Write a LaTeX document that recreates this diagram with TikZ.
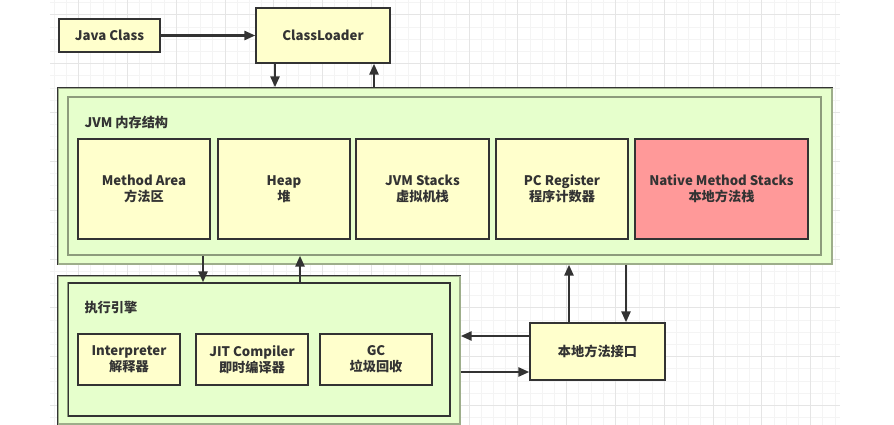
\documentclass[tikz,border=0pt]{standalone}
\usepackage{fontspec}
\setmainfont{Noto Sans CJK SC}
\usetikzlibrary{arrows.meta}
\definecolor{boxfill}{HTML}{FFFFCC}
\definecolor{areafill}{HTML}{E6FFCC}
\definecolor{areaedge}{HTML}{9DAD8A}
\definecolor{inkdark}{HTML}{333333}
\definecolor{nativefill}{HTML}{FF9999}
\definecolor{gridminor}{HTML}{F4F4F4}
\definecolor{gridmajor}{HTML}{E5E5E5}
\begin{document}
\begin{tikzpicture}
  [x=1pt,y=-1pt,font=\bfseries\fontsize{13.2}{16}\selectfont,every node/.style={text=inkdark}]
  \tikzstyle{unit} = [draw=inkdark,fill=boxfill,line width=1.3pt,shape=rectangle,align=center,inner sep=0pt]
  \tikzstyle{area} = [draw=areaedge,fill=areafill,line width=1.3pt,shape=rectangle,inner sep=0pt]
  \tikzstyle{flow} = [draw=inkdark,line width=2.5pt,-{Triangle[length=11pt,width=9pt]}]
  \useasboundingbox (0,0) rectangle (894,425);
  % grid paper
  \begin{scope}
    \clip (50,0) rectangle (840,425);
    \foreach \i in {-2,...,62} \draw[gridminor,line width=1pt] ({810.7-12.2*\i},0) -- ++(0,425);
    \foreach \i in {0,...,34} \draw[gridminor,line width=1pt] (50,{2.8+12.2*\i}) -- ++(790,0);
    \foreach \i in {0,...,15} \draw[gridmajor,line width=1pt] ({810.7-48.8*\i},0) -- ++(0,425);
    \foreach \i in {0,...,8} \draw[gridmajor,line width=1pt] (50,{15+48.8*\i}) -- ++(790,0);
  \end{scope}

  \node[unit,minimum width=101,minimum height=33] (javaclass) at (109.5,35.5) {Java Class};
  \node[unit,minimum width=134,minimum height=55] (loader) at (323,35.5) {ClassLoader};

  % JVM memory
  \node[area,minimum width=774,minimum height=176] (jvmouter) at (445,176) {};
  \draw[inkdark,line width=1.3pt] (jvmouter.south west) |- (jvmouter.north east);
  \node[area,draw=areaedge!90!black,minimum width=753,minimum height=158] (jvminner) at (444.5,176) {};
  \node[anchor=west] (jvmlabel) at (81,122) {JVM 内存结构};
  \node[unit,minimum width=132,minimum height=100] (methodarea) at (144,189) {Method Area\\方法区};
  \node[unit,minimum width=132,minimum height=100] (heap) at (284,189) {Heap\\堆};
  \node[unit,minimum width=133,minimum height=100] (jvmstacks) at (422.5,189) {JVM Stacks\\虚拟机栈};
  \node[unit,minimum width=132,minimum height=100] (pcreg) at (562,189) {PC Register\\程序计数器};
  \node[unit,fill=nativefill,minimum width=173,minimum height=100] (nativestacks) at (721.5,189) {Native Method Stacks\\本地方法栈};

  % execution engine
  \node[area,minimum width=402,minimum height=148] (execouter) at (259,350) {};
  \draw[inkdark,line width=1.3pt] (execouter.south west) |- (execouter.north east);
  \node[area,draw=inkdark,minimum width=382,minimum height=133] (execinner) at (259,349.5) {};
  \draw[areaedge!90!black,line width=1.3pt] (execinner.south west) -- (execinner.north west);
  \node[anchor=west] (execlabel) at (81,308) {执行引擎};
  \node[unit,minimum width=102,minimum height=51] (interp) at (129,359.5) {Interpreter\\解释器};
  \node[unit,minimum width=112,minimum height=51] (jit) at (252,359.5) {JIT Compiler\\即时编译器};
  \node[unit,minimum width=112,minimum height=51] (gc) at (376,359.5) {GC\\垃圾回收};

  \node[unit,minimum width=135,minimum height=57] (native) at (597.5,351.5) {本地方法接口};

  % connectors
  \coordinate (loaddown) at ([xshift=-48pt]loader.south);
  \coordinate (loadup) at ([xshift=51pt]loader.south);
  \coordinate (engdown) at ([xshift=-56pt]execinner.north);
  \coordinate (engup) at ([xshift=41pt]execinner.north);
  \coordinate (nativeup) at ([xshift=-28.5pt]native.north);
  \coordinate (nativedown) at ([xshift=28.5pt]native.north);
  \coordinate (nativeout) at ([yshift=15.5pt]native.west);
  \coordinate (nativein) at ([yshift=-20.5pt]native.west);
  \draw[flow] (javaclass) -- (loader);
  \draw[flow] (loaddown) -- (loaddown |- jvmouter.north);
  \draw[flow] (loadup |- jvmouter.north) -- (loadup);
  \draw[flow] (engdown |- jvminner.south) -- (engdown);
  \draw[flow] (engup) -- (engup |- jvminner.south);
  \draw[flow] (nativeup) -- (nativeup |- jvmouter.south);
  \draw[flow] (nativedown |- jvmouter.south) -- (nativedown);
  \draw[flow] (nativeout) -- (nativeout -| execouter.east);
  \draw[flow] (nativein -| execouter.east) -- (nativein);
\end{tikzpicture}
\end{document}
